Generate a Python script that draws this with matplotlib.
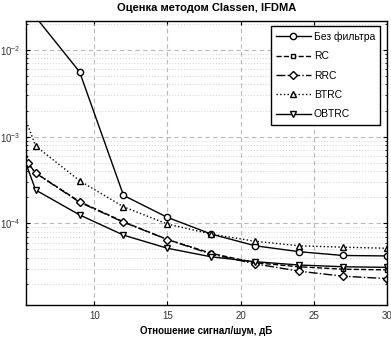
import matplotlib
matplotlib.use("Agg")
import matplotlib.pyplot as plt
from matplotlib.ticker import LogLocator, NullFormatter

plt.rcParams['font.family'] = ['Liberation Sans', 'DejaVu Sans']

snr = [3, 6, 9, 12, 15, 18, 21, 24, 27, 30]
snr_rc = [3, 5.5, 6, 9, 12, 15, 18, 21, 24, 27, 30]

ber_nofilter = [1.2e-1, 2.4e-2, 5.6e-3, 2.1e-4, 1.17e-4, 7.5e-5, 5.5e-5, 4.7e-5, 4.25e-5, 4.2e-5]
ber_rc = [4.0e-2, 4.9e-4, 3.8e-4, 1.78e-4, 1.04e-4, 6.5e-5, 4.5e-5, 3.5e-5, 3.15e-5, 2.95e-5, 2.9e-5]
ber_rrc = [4.0e-2, 4.9e-4, 3.8e-4, 1.75e-4, 1.03e-4, 6.5e-5, 4.4e-5, 3.4e-5, 2.8e-5, 2.45e-5, 2.3e-5]
ber_btrc = [1.7e-2, 7.8e-4, 3.1e-4, 1.55e-4, 9.8e-5, 7.5e-5, 6.2e-5, 5.5e-5, 5.3e-5, 5.15e-5]
ber_obtrc = [5.8e-3, 2.42e-4, 1.25e-4, 7.3e-5, 5.15e-5, 4.1e-5, 3.6e-5, 3.3e-5, 3.15e-5, 3.1e-5]

labels = ["Без фильтра", "RC", "RRC", "BTRC", "OBTRC"]

fig = plt.figure(figsize=(3.91, 3.38), dpi=100)
ax = fig.add_axes([26/391, 1 - 305/338, (387-26)/391, (305-20.7)/338])

ms = 4.5
lw = 1.0
ax.semilogy(snr, ber_nofilter, '-', color='black', lw=lw, marker='o', ms=ms, mfc='white', mec='black', label=labels[0])
ax.semilogy(snr_rc, ber_rc, '--', color='black', lw=lw, marker='s', ms=3.5, mfc='white', mec='black', label=labels[1])
ax.semilogy(snr_rc, ber_rrc, '-.', color='black', lw=lw, marker='D', ms=3.8, mfc='white', mec='black', label=labels[2])
ax.semilogy(snr, ber_btrc, ':', color='black', lw=lw, marker='^', ms=ms, mfc='white', mec='black', label=labels[3])
ax.semilogy(snr, ber_obtrc, '-', color='black', lw=lw, marker='v', ms=ms, mfc='white', mec='black', label=labels[4])

ax.set_xlim(5.34, 30)
ax.set_ylim(1.14e-5, 2.18e-2)
ax.set_xticks([10, 15, 20, 25, 30])
ax.yaxis.set_major_locator(LogLocator(base=10, numticks=10))
ax.yaxis.set_minor_locator(LogLocator(base=10, subs=range(2, 10), numticks=20))
ax.yaxis.set_minor_formatter(NullFormatter())

ax.grid(True, which='major', linestyle=(0, (4, 3)), color='#b8b8b8', lw=0.8)
ax.grid(True, which='minor', axis='y', linestyle=(0, (1, 2)), color='#d0d0d0', lw=0.7)

ax.tick_params(which='both', direction='in', top=True, right=True, labelsize=7, colors='black')
ax.tick_params(which='major', length=3, pad=4)
ax.tick_params(which='minor', length=1.5)
for lab in ax.get_xticklabels() + ax.get_yticklabels():
    lab.set_color('#333333')

for s in ax.spines.values():
    s.set_linewidth(1.0)

ax.set_title("Оценка методом Classen, IFDMA", fontsize=8, fontweight='bold', pad=7)
ax.set_xlabel("Отношение сигнал/шум, дБ", fontsize=7, fontweight='bold', labelpad=4)

leg = ax.legend(loc='upper right', fontsize=7.5, frameon=True, fancybox=False,
                edgecolor='black', framealpha=1, handlelength=3.3, borderpad=0.5,
                labelspacing=0.9, handletextpad=0.3, borderaxespad=0,
                bbox_to_anchor=(0.981, 0.981))
leg.get_frame().set_linewidth(1.0)

fig.savefig("out.png", dpi=100)
